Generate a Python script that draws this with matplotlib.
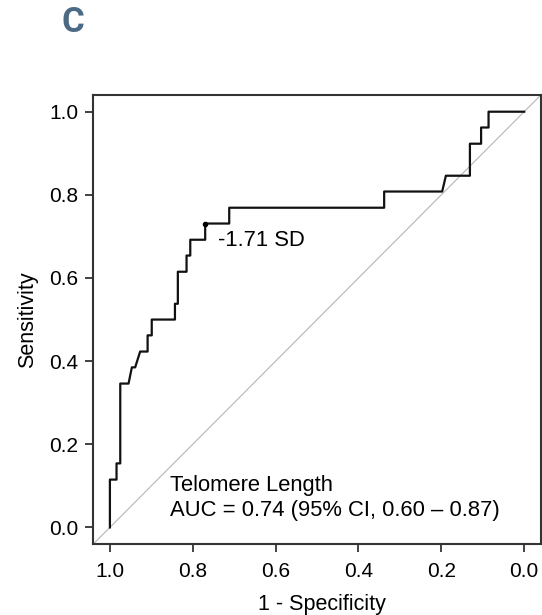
import matplotlib.pyplot as plt

plt.rcParams['font.family'] = ['Liberation Sans', 'DejaVu Sans']

# ROC curve points (specificity, sensitivity)
specificity = [1.0, 1.0, 0.984, 0.984, 0.975, 0.975, 0.955, 0.947, 0.939, 0.927,
               0.909, 0.909, 0.899, 0.899, 0.843, 0.843, 0.836, 0.836, 0.815, 0.815,
               0.806, 0.806, 0.770, 0.770, 0.712, 0.712, 0.338, 0.338, 0.198, 0.189,
               0.131, 0.131, 0.104, 0.104, 0.086, 0.086, 0.0]
sensitivity = [0.0, 0.115, 0.115, 0.154, 0.154, 0.346, 0.346, 0.385, 0.385, 0.423,
               0.423, 0.462, 0.462, 0.5, 0.5, 0.538, 0.538, 0.615, 0.615, 0.654,
               0.654, 0.692, 0.692, 0.731, 0.731, 0.769, 0.769, 0.808, 0.808, 0.846,
               0.846, 0.923, 0.923, 0.962, 0.962, 1.0, 1.0]

thres_spec = 0.770
thres_sens = 0.731
thres_label = "-1.71 SD"

ticks = [1.0, 0.8, 0.6, 0.4, 0.2, 0.0]
tick_labels = ["1.0", "0.8", "0.6", "0.4", "0.2", "0.0"]
yticks = [0.0, 0.2, 0.4, 0.6, 0.8, 1.0]
ytick_labels = ["0.0", "0.2", "0.4", "0.6", "0.8", "1.0"]

fig = plt.figure(figsize=(5.42, 6.15), dpi=100)
ax = fig.add_axes([0.1722, 0.1154, 0.8255, 0.730])

# chance diagonal
ax.plot([1.1, -0.1], [-0.1, 1.1], color='#b5b5b5', lw=0.8, zorder=1)
# roc curve
ax.plot(specificity, sensitivity, color='#111111', lw=1.6, zorder=2)
ax.plot(thres_spec, thres_sens, 'o', color='black', ms=3, zorder=3)
ax.text(thres_spec - 0.03, thres_sens - 0.042, thres_label, fontsize=15.8,
        ha='left', va='center')

ax.text(0.855, 0.10, "Telomere Length", fontsize=15.8, ha='left', va='center')
ax.text(0.855, 0.040, "AUC = 0.74 (95% CI, 0.60 \u2013 0.87)", fontsize=15.8,
        ha='left', va='center')

ax.set_xlim(1.04, -0.04)
ax.set_ylim(-0.04, 1.04)
ax.set_xticks(ticks)
ax.set_xticklabels(tick_labels)
ax.set_yticks(yticks)
ax.set_yticklabels(ytick_labels)
ax.tick_params(axis='both', direction='out', length=6, width=1.3,
               color='#333333', labelsize=15)
ax.tick_params(axis='x', pad=7)
ax.tick_params(axis='y', pad=5)
for s in ax.spines.values():
    s.set_linewidth(1.5)
    s.set_color('#333333')

ax.set_xlabel("1 - Specificity", fontsize=15.5, labelpad=9, x=0.511)
ax.set_ylabel("Sensitivity", fontsize=15.5, labelpad=8)

fig.text(73 / 542, 1 - 23 / 615, "C", fontsize=25, fontweight='bold',
         color='#4b6a84', ha='center', va='center', family=['Roboto'])

fig.savefig("out.png", dpi=100)
